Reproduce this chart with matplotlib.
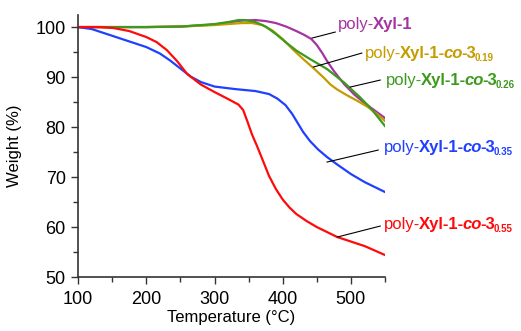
import matplotlib
matplotlib.use("Agg")
import matplotlib.pyplot as plt
from matplotlib.transforms import offset_copy
from matplotlib.ticker import MultipleLocator

plt.rcParams['font.family'] = ['Liberation Sans', 'DejaVu Sans']

# data
t_xyl1 = [100, 150, 200, 250, 300, 320, 340, 360, 375, 390, 405, 420, 432, 442, 450, 458, 465, 475, 490, 505,
          520, 535, 550]
w_xyl1 = [100, 100, 100, 100.1, 100.5, 100.9, 101.3, 101.4, 101.2, 100.8, 100.1, 99.2, 98.4, 97.6, 96.4, 94.8,
          93.2, 91.2, 88.6, 86.5, 84.8, 83.3, 81.8]

t_019 = [100, 150, 200, 250, 300, 320, 340, 355, 370, 385, 400, 415, 430, 445, 460, 470, 480, 495, 510, 525,
         540, 550]
w_019 = [100, 100, 100, 100.1, 100.4, 100.6, 100.8, 100.8, 100.4, 99.3, 97.6, 95.5, 93.6, 91.8, 89.9, 88.5,
         87.5, 86.3, 85.2, 84.0, 82.4, 81.2]

t_026 = [100, 150, 200, 250, 300, 320, 335, 345, 360, 375, 390, 405, 420, 440, 465, 490, 513, 530, 550]
w_026 = [100, 100, 100, 100.1, 100.6, 101.0, 101.4, 101.4, 101.0, 100.1, 98.6, 96.9, 95.3, 93.6, 91.6, 88.9,
         86.0, 83.6, 80.2]

t_035 = [100, 120, 140, 160, 180, 200, 220, 235, 250, 265, 280, 300, 330, 360, 380, 392, 404, 414, 422, 430,
         440, 452, 465, 480, 500, 520, 535, 550]
w_035 = [100, 99.6, 98.7, 97.8, 96.9, 96.0, 94.7, 93.3, 91.7, 90.1, 89.0, 88.1, 87.6, 87.2, 86.6, 85.7, 84.4,
         82.6, 80.8, 79.0, 77.2, 75.5, 74.0, 72.5, 70.6, 69.0, 68.0, 67.0]

t_055 = [100, 130, 152, 175, 200, 215, 230, 245, 260, 280, 300, 320, 335, 342, 348, 355, 362, 370, 380, 390,
         400, 410, 420, 435, 450, 465, 480, 500, 520, 535, 550]
w_055 = [100, 100, 99.8, 99.2, 98, 97, 95.4, 93.2, 90.6, 88.5, 87, 85.6, 84.5, 83.4, 81.2, 78.5, 76.3, 73.6,
         70.2, 67.6, 65.5, 63.9, 62.6, 61.2, 60.0, 59.0, 58.0, 57.1, 56.2, 55.3, 54.4]

purple = '#a335a3'
gold = '#c49c00'
green = '#3c9a1c'
blue = '#2040ff'
red = '#ff0a0a'

fig = plt.figure(figsize=(5.21, 3.31), dpi=100)
ax = fig.add_axes([0.150, 0.163, 0.589, 0.793])

ax.plot(t_xyl1, w_xyl1, color=purple, lw=1.6)
ax.plot(t_019, w_019, color=gold, lw=1.6)
ax.plot(t_026, w_026, color=green, lw=1.6)
ax.plot(t_035, w_035, color=blue, lw=1.6)
ax.plot(t_055, w_055, color=red, lw=1.6)

ax.set_xlim(100, 550)
ax.set_ylim(50, 102.5)
ax.xaxis.set_major_locator(MultipleLocator(100))
ax.xaxis.set_minor_locator(MultipleLocator(50))
ax.yaxis.set_major_locator(MultipleLocator(10))
ax.yaxis.set_minor_locator(MultipleLocator(5))
ax.spines['top'].set_visible(False)
ax.spines['right'].set_visible(False)
for s in ['left', 'bottom']:
    ax.spines[s].set_color('#333333')
    ax.spines[s].set_linewidth(1.2)
ax.tick_params(which='both', direction='out', width=1, colors='#333333', labelcolor='black',
               labelsize=13)
ax.tick_params(which='major', length=5, pad=4)
ax.tick_params(which='minor', length=3.5)
ax.tick_params(axis='x', which='major', pad=5)
ax.set_xlabel('Temperature (°C)', fontsize=12, labelpad=1.5)
ax.set_ylabel('Weight (%)', fontsize=12, labelpad=10)

fig.canvas.draw()
renderer = fig.canvas.get_renderer()


def rich_label(x, y, pieces, color):
    # pieces: (text, weight, style, is_sub), drawn one after another on a baseline
    dx = 0
    for txt, wt, st, sub in pieces:
        tr = offset_copy(ax.transData, fig=fig, x=dx, y=-3 if sub else 0, units='dots')
        t = ax.text(x, y, txt, transform=tr, color=color, fontsize=7 if sub else 12,
                    fontweight=wt, fontstyle=st, va='baseline', ha='left', clip_on=False)
        dx += t.get_window_extent(renderer).width - 1.5


def co_label(x, y, sub, color):
    rich_label(x, y, [('poly-', 'normal', 'normal', False),
                      ('Xyl-1-', 'bold', 'normal', False),
                      ('co', 'bold', 'italic', False),
                      ('-3', 'bold', 'normal', False),
                      (sub, 'bold', 'normal', True)], color)


rich_label(481, 99.6, [('poly-', 'normal', 'normal', False), ('Xyl-1', 'bold', 'normal', False)], purple)
co_label(521, 93.8, '0.19', gold)
co_label(552, 88.4, '0.26', green)
co_label(549, 75.0, '0.35', blue)
co_label(549, 59.6, '0.55', red)

# leader lines
ax.plot([443, 477], [97.8, 99.0], color='black', lw=0.8, clip_on=False)
ax.plot([445, 516], [92.0, 94.8], color='black', lw=0.8, clip_on=False)
ax.plot([499, 543], [88.0, 89.4], color='black', lw=0.8, clip_on=False)
ax.plot([465, 540], [73.0, 75.4], color='black', lw=0.8, clip_on=False)
ax.plot([480, 543], [58.0, 60.2], color='black', lw=0.8, clip_on=False)

fig.savefig('out.png', dpi=100)
